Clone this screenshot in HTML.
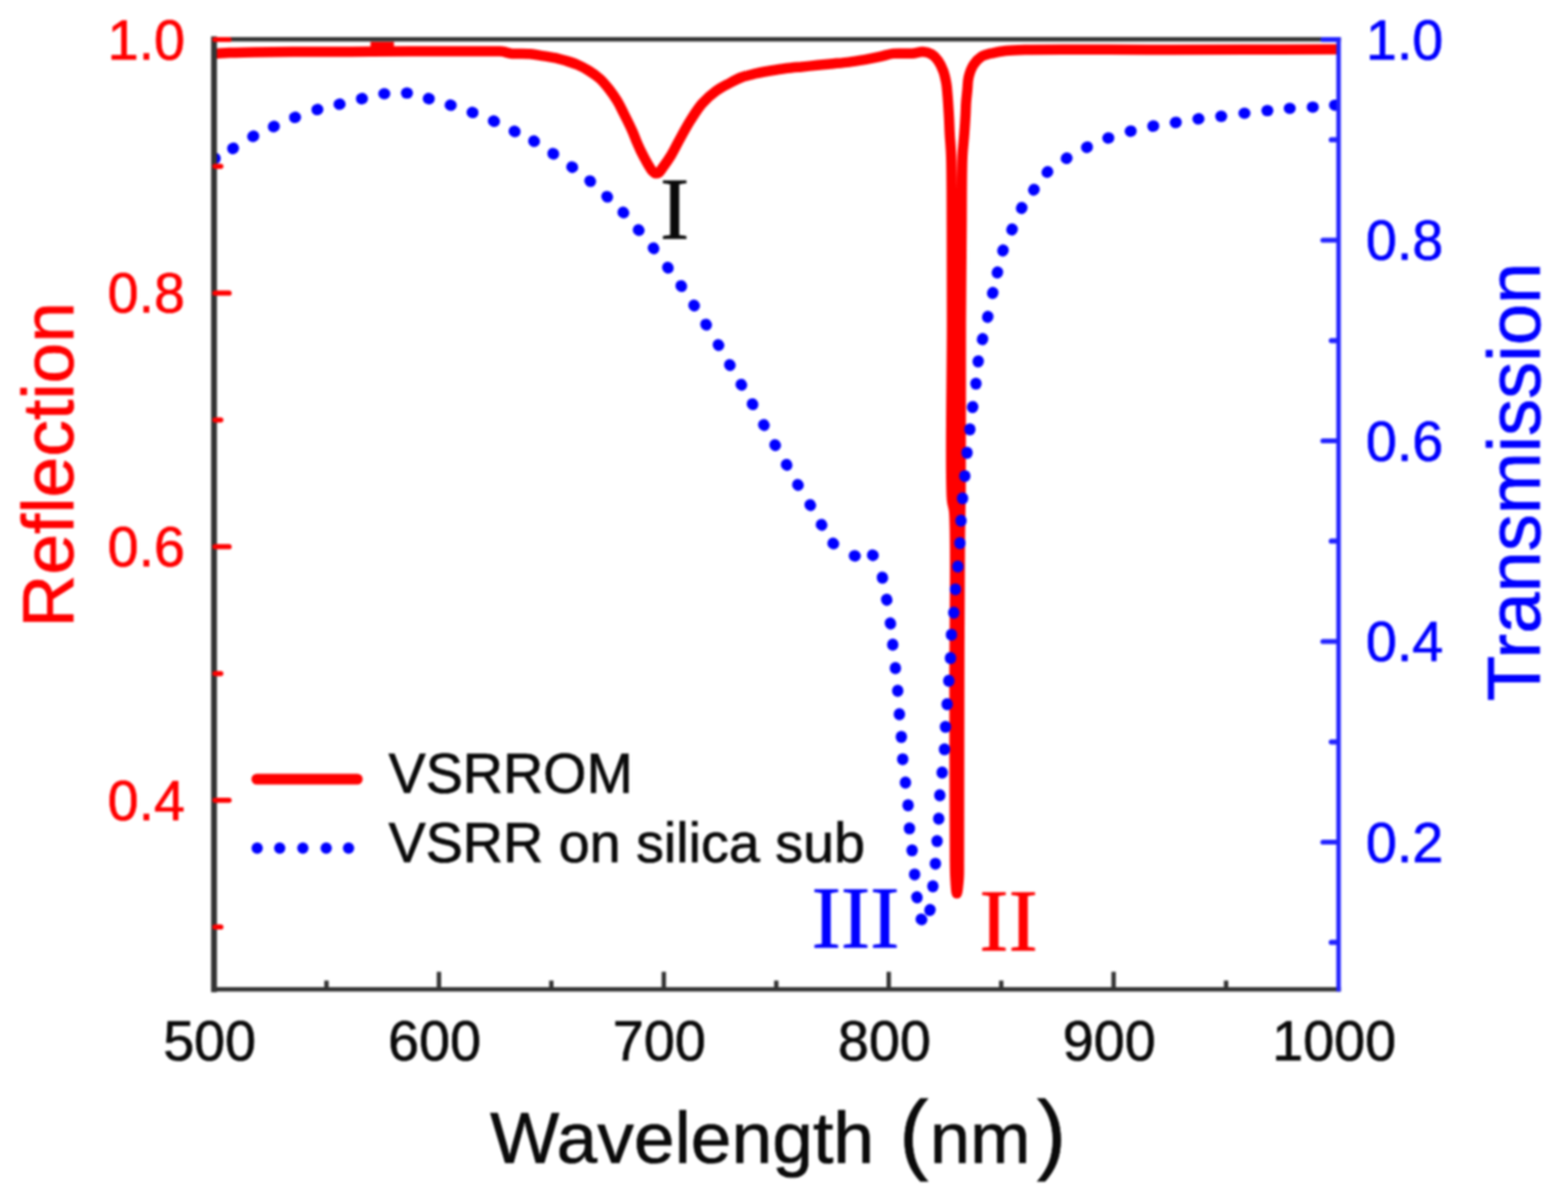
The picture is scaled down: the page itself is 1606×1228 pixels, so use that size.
<!DOCTYPE html><html><head><meta charset="utf-8"><title>Reflection and Transmission</title><style>html,body{margin:0;padding:0;background:#fff;}svg{display:block;filter:blur(1.3px);}text{font-family:"Liberation Sans",Arial,sans-serif;stroke-width:0.7;}.serif{font-family:"Liberation Serif","Times New Roman",serif;}</style></head><body>
<svg width="1606" height="1228" viewBox="0 0 1606 1228">
<rect width="1606" height="1228" fill="#ffffff"/>
<defs><clipPath id="pa"><rect x="219.2" y="40.3" width="1151.8" height="973.0"/></clipPath></defs><g clip-path="url(#pa)">
<path d="M221.0,55.0 C225.7,54.7 229.7,54.2 235.0,54.0 C242.1,53.7 250.7,53.7 260.0,53.5 C271.8,53.3 285.3,53.1 300.0,53.0 C318.0,52.9 340.0,53.0 360.0,52.9 C380.0,52.8 400.9,52.6 420.0,52.6 C437.4,52.6 454.3,52.6 470.0,52.6 C484.1,52.6 503.0,52.5 510.0,52.6 C512.5,52.6 513.2,52.5 515.0,52.8 C517.4,53.1 519.7,54.3 523.0,54.7 C528.1,55.4 536.9,54.8 543.0,55.3 C548.1,55.8 552.3,56.7 557.0,57.4 C561.7,58.2 566.9,58.9 571.0,59.8 C574.4,60.6 576.8,61.3 580.0,62.3 C583.6,63.4 587.7,64.6 591.4,66.2 C595.3,67.9 599.1,69.9 602.8,72.2 C606.7,74.6 610.7,77.3 614.2,80.5 C617.8,83.7 621.0,87.7 624.0,91.5 C626.9,95.2 629.5,98.9 632.0,103.0 C634.6,107.2 636.6,111.7 639.0,116.5 C641.8,122.0 645.3,128.9 647.6,134.1 C649.4,138.0 650.4,141.2 651.9,144.7 C653.4,148.2 655.0,151.8 656.6,155.2 C658.2,158.4 659.9,161.7 661.5,164.5 C662.8,166.9 664.0,169.1 665.3,171.0 C666.4,172.7 667.3,174.4 668.5,175.5 C669.4,176.4 670.5,177.3 671.5,177.5 C672.5,177.7 673.5,177.6 674.5,177.0 C675.9,176.2 676.9,174.1 678.5,172.0 C681.0,168.6 684.8,163.3 687.7,158.5 C690.9,153.2 693.6,147.2 696.8,141.5 C700.1,135.5 703.5,129.2 707.2,123.3 C710.9,117.5 714.6,111.4 719.0,106.3 C723.3,101.4 728.3,96.9 733.3,93.3 C737.9,89.9 743.0,87.5 747.6,85.0 C751.8,82.7 755.8,80.6 760.0,79.0 C764.1,77.5 768.0,76.7 772.4,75.7 C777.4,74.5 783.2,73.5 788.6,72.5 C794.0,71.6 799.4,70.7 804.8,70.0 C810.2,69.3 815.6,68.9 821.0,68.4 C826.4,67.9 831.7,67.3 837.1,66.8 C842.5,66.3 847.9,65.7 853.3,65.2 C858.7,64.7 864.1,64.3 869.5,63.6 C874.9,62.9 880.3,62.0 885.7,61.1 C891.1,60.1 896.8,59.0 901.9,57.9 C906.5,56.9 910.0,55.5 914.8,54.9 C920.6,54.2 928.8,55.2 934.3,54.7 C938.5,54.4 941.8,52.8 945.2,53.0 C948.4,53.2 951.7,54.1 954.3,55.6 C956.9,57.1 958.9,59.5 960.8,62.1 C962.9,65.0 964.7,68.8 966.1,72.6 C967.6,76.6 968.5,81.2 969.3,85.6 C970.0,89.9 970.2,93.8 970.6,98.6 C971.1,104.5 971.5,111.7 971.9,118.2 C972.3,124.7 972.4,131.0 972.8,137.7 C973.2,144.9 973.9,150.5 974.2,160.0 C974.8,176.8 974.7,204.6 974.8,230.0 C975.0,260.4 975.0,291.7 975.0,330.0 C975.1,381.7 972.8,487.3 975.0,512.0 C975.6,518.4 976.6,517.6 977.2,524.0 C979.4,548.3 977.5,641.0 977.6,700.0 C977.7,759.7 977.6,850.0 978.0,880.0 C978.1,890.0 978.1,893.8 978.5,900.0 C978.8,905.4 979.4,915.0 980.0,915.0 C980.6,915.0 981.6,905.4 982.0,900.0 C982.5,893.8 982.2,890.0 982.3,880.0 C982.5,850.0 982.4,756.9 982.6,700.0 C982.7,648.8 982.9,590.8 983.2,554.0 C983.4,531.6 983.8,523.0 984.0,500.0 C984.3,459.1 984.0,379.2 984.2,330.0 C984.4,292.3 984.7,260.4 985.0,230.0 C985.2,204.6 985.0,176.8 985.8,160.0 C986.2,150.5 987.1,144.9 987.6,137.7 C988.1,131.0 988.6,124.1 988.9,118.2 C989.2,113.4 989.2,109.5 989.5,105.1 C989.8,100.8 990.4,96.4 990.8,92.1 C991.2,87.8 991.1,83.4 992.1,79.1 C993.2,74.7 994.9,69.7 997.3,66.1 C999.4,62.9 1002.0,60.2 1005.1,58.2 C1008.4,56.1 1012.8,55.3 1016.9,54.3 C1021.1,53.2 1025.2,52.5 1030.0,52.0 C1035.9,51.3 1040.2,51.2 1050.0,51.0 C1076.7,50.3 1148.5,51.1 1200.0,51.0 C1254.7,50.9 1312.7,50.7 1369.0,50.5" fill="none" stroke="#ff0000" stroke-width="10.5" stroke-linejoin="round" stroke-linecap="butt"/>
<line x1="379.5" y1="47.6" x2="403.5" y2="47.6" stroke="#ff0000" stroke-width="9.5"/>
<g stroke="#0000ff" stroke-width="11.6" stroke-linecap="round">
<line x1="219.7" y1="162.7" x2="220.3" y2="162.3"/>
<line x1="238.4" y1="152.2" x2="239.0" y2="151.8"/>
<line x1="259.0" y1="139.8" x2="259.8" y2="139.4"/>
<line x1="280.1" y1="129.8" x2="280.9" y2="129.4"/>
<line x1="301.8" y1="120.3" x2="302.6" y2="120.1"/>
<line x1="324.7" y1="112.3" x2="325.5" y2="112.1"/>
<line x1="347.4" y1="106.8" x2="348.2" y2="106.6"/>
<line x1="370.3" y1="101.1" x2="371.1" y2="100.9"/>
<line x1="393.2" y1="96.0" x2="394.0" y2="96.0"/>
<line x1="416.4" y1="95.3" x2="417.2" y2="95.3"/>
<line x1="438.8" y1="100.9" x2="439.6" y2="101.1"/>
<line x1="461.2" y1="107.6" x2="462.0" y2="107.8"/>
<line x1="483.6" y1="115.1" x2="484.4" y2="115.3"/>
<line x1="505.5" y1="123.9" x2="506.3" y2="124.3"/>
<line x1="526.7" y1="134.4" x2="527.5" y2="134.8"/>
<line x1="546.7" y1="144.4" x2="547.3" y2="144.8"/>
<line x1="566.4" y1="157.3" x2="567.0" y2="157.7"/>
<line x1="585.8" y1="171.0" x2="586.4" y2="171.4"/>
<line x1="604.2" y1="185.2" x2="604.8" y2="185.8"/>
<line x1="621.6" y1="201.2" x2="622.2" y2="201.8"/>
<line x1="638.2" y1="217.4" x2="638.8" y2="218.0"/>
<line x1="653.9" y1="235.4" x2="654.5" y2="236.0"/>
<line x1="669.2" y1="254.0" x2="669.6" y2="254.6"/>
<line x1="683.9" y1="273.9" x2="684.3" y2="274.5"/>
<line x1="697.6" y1="292.7" x2="698.0" y2="293.3"/>
<line x1="710.8" y1="312.6" x2="711.2" y2="313.2"/>
<line x1="723.0" y1="332.2" x2="723.4" y2="332.8"/>
<line x1="735.7" y1="353.1" x2="736.1" y2="353.7"/>
<line x1="747.4" y1="373.6" x2="747.8" y2="374.2"/>
<line x1="759.1" y1="393.8" x2="759.5" y2="394.4"/>
<line x1="770.6" y1="413.7" x2="771.0" y2="414.3"/>
<line x1="782.2" y1="435.0" x2="782.6" y2="435.6"/>
<line x1="793.8" y1="455.6" x2="794.2" y2="456.2"/>
<line x1="805.5" y1="475.8" x2="805.9" y2="476.4"/>
<line x1="817.1" y1="496.4" x2="817.5" y2="497.0"/>
<line x1="829.7" y1="517.0" x2="830.1" y2="517.6"/>
<line x1="841.3" y1="537.3" x2="841.7" y2="537.9"/>
<line x1="853.2" y1="556.4" x2="853.8" y2="557.0"/>
<line x1="875.1" y1="569.2" x2="875.9" y2="569.4"/>
<line x1="893.7" y1="568.5" x2="894.3" y2="568.9"/>
<line x1="903.7" y1="591.2" x2="903.9" y2="592.0"/>
<line x1="908.1" y1="613.8" x2="908.3" y2="614.6"/>
<line x1="911.9" y1="638.1" x2="912.1" y2="638.9"/>
<line x1="914.4" y1="659.9" x2="914.4" y2="660.7"/>
<line x1="917.1" y1="683.9" x2="917.1" y2="684.7"/>
<line x1="919.5" y1="707.1" x2="919.5" y2="707.9"/>
<line x1="921.2" y1="731.1" x2="921.2" y2="731.9"/>
<line x1="923.2" y1="754.3" x2="923.2" y2="755.1"/>
<line x1="924.6" y1="777.2" x2="924.6" y2="778.0"/>
<line x1="927.4" y1="801.1" x2="927.4" y2="801.9"/>
<line x1="930.1" y1="824.4" x2="930.1" y2="825.2"/>
<line x1="931.5" y1="848.0" x2="931.5" y2="848.8"/>
<line x1="934.2" y1="870.5" x2="934.2" y2="871.3"/>
<line x1="936.8" y1="895.2" x2="936.8" y2="896.0"/>
<line x1="939.1" y1="918.6" x2="939.3" y2="919.4"/>
<line x1="943.5" y1="941.4" x2="944.1" y2="942.0"/>
<line x1="952.4" y1="932.4" x2="952.6" y2="931.6"/>
<line x1="955.5" y1="908.1" x2="955.5" y2="907.3"/>
<line x1="958.1" y1="885.0" x2="958.1" y2="884.2"/>
<line x1="959.8" y1="861.8" x2="959.8" y2="861.0"/>
<line x1="961.5" y1="838.9" x2="961.5" y2="838.1"/>
<line x1="962.6" y1="814.9" x2="962.6" y2="814.1"/>
<line x1="965.0" y1="791.7" x2="965.0" y2="790.9"/>
<line x1="967.4" y1="767.8" x2="967.4" y2="767.0"/>
<line x1="968.4" y1="744.8" x2="968.4" y2="744.0"/>
<line x1="970.1" y1="721.6" x2="970.1" y2="720.8"/>
<line x1="971.8" y1="697.7" x2="971.8" y2="696.9"/>
<line x1="973.5" y1="674.4" x2="973.5" y2="673.6"/>
<line x1="974.5" y1="650.5" x2="974.5" y2="649.7"/>
<line x1="976.9" y1="627.9" x2="976.9" y2="627.1"/>
<line x1="978.6" y1="604.0" x2="978.6" y2="603.2"/>
<line x1="981.0" y1="580.7" x2="981.0" y2="579.9"/>
<line x1="983.2" y1="556.6" x2="983.2" y2="555.8"/>
<line x1="984.3" y1="533.7" x2="984.3" y2="532.9"/>
<line x1="985.9" y1="510.8" x2="985.9" y2="510.0"/>
<line x1="988.2" y1="488.0" x2="988.2" y2="487.2"/>
<line x1="990.5" y1="464.1" x2="990.5" y2="463.3"/>
<line x1="993.4" y1="440.1" x2="993.4" y2="439.3"/>
<line x1="996.1" y1="417.3" x2="996.3" y2="416.5"/>
<line x1="999.6" y1="393.3" x2="999.6" y2="392.5"/>
<line x1="1001.8" y1="370.5" x2="1002.0" y2="369.7"/>
<line x1="1006.3" y1="347.7" x2="1006.5" y2="346.9"/>
<line x1="1011.6" y1="324.9" x2="1011.8" y2="324.1"/>
<line x1="1016.7" y1="300.4" x2="1016.9" y2="299.6"/>
<line x1="1021.5" y1="279.4" x2="1021.7" y2="278.6"/>
<line x1="1027.2" y1="256.9" x2="1027.4" y2="256.1"/>
<line x1="1036.4" y1="235.4" x2="1036.8" y2="234.6"/>
<line x1="1046.3" y1="213.4" x2="1046.7" y2="212.6"/>
<line x1="1058.8" y1="194.6" x2="1059.2" y2="194.0"/>
<line x1="1072.5" y1="176.5" x2="1073.1" y2="175.9"/>
<line x1="1092.2" y1="162.3" x2="1092.8" y2="161.9"/>
<line x1="1112.9" y1="151.0" x2="1113.7" y2="150.6"/>
<line x1="1134.8" y1="141.4" x2="1135.6" y2="141.2"/>
<line x1="1157.7" y1="134.4" x2="1158.5" y2="134.2"/>
<line x1="1180.8" y1="129.2" x2="1181.6" y2="129.0"/>
<line x1="1203.9" y1="125.5" x2="1204.7" y2="125.3"/>
<line x1="1227.1" y1="121.8" x2="1227.9" y2="121.6"/>
<line x1="1250.4" y1="119.1" x2="1251.2" y2="119.1"/>
<line x1="1274.2" y1="116.0" x2="1275.0" y2="116.0"/>
<line x1="1297.7" y1="113.3" x2="1298.5" y2="113.3"/>
<line x1="1320.6" y1="111.0" x2="1321.4" y2="111.0"/>
<line x1="1344.2" y1="109.7" x2="1345.0" y2="109.7"/>
<line x1="1367.0" y1="107.7" x2="1367.8" y2="107.7"/>
</g>
</g>
<g stroke-linecap="square">
<line x1="219.2" y1="40.3" x2="1371.0" y2="40.3" stroke="#333333" stroke-width="4.5"/>
<line x1="219.2" y1="1013.3" x2="1371.0" y2="1013.3" stroke="#333333" stroke-width="4.5"/>
<line x1="219.2" y1="40.3" x2="219.2" y2="1013.3" stroke="#333333" stroke-width="6"/>
<line x1="1371.0" y1="40.3" x2="1371.0" y2="1013.3" stroke="#2222ff" stroke-width="4.6"/>
</g>
<g stroke="#333333" stroke-width="4.5">
<line x1="334.4" y1="1013.3" x2="334.4" y2="1004.3"/>
<line x1="449.6" y1="1013.3" x2="449.6" y2="995.3"/>
<line x1="564.7" y1="1013.3" x2="564.7" y2="1004.3"/>
<line x1="679.9" y1="1013.3" x2="679.9" y2="995.3"/>
<line x1="795.1" y1="1013.3" x2="795.1" y2="1004.3"/>
<line x1="910.3" y1="1013.3" x2="910.3" y2="995.3"/>
<line x1="1025.5" y1="1013.3" x2="1025.5" y2="1004.3"/>
<line x1="1140.6" y1="1013.3" x2="1140.6" y2="995.3"/>
<line x1="1255.8" y1="1013.3" x2="1255.8" y2="1004.3"/>
</g>
<g stroke="#ff0000" stroke-width="5.2" stroke-linecap="round">
<line x1="220.2" y1="40.5" x2="234.7" y2="40.5"/>
<line x1="220.2" y1="170.3" x2="226.2" y2="170.3"/>
<line x1="220.2" y1="300.2" x2="234.7" y2="300.2"/>
<line x1="220.2" y1="430.1" x2="226.2" y2="430.1"/>
<line x1="220.2" y1="559.9" x2="234.7" y2="559.9"/>
<line x1="220.2" y1="689.8" x2="226.2" y2="689.8"/>
<line x1="220.2" y1="819.6" x2="234.7" y2="819.6"/>
<line x1="220.2" y1="949.4" x2="226.2" y2="949.4"/>
</g>
<g stroke="#2222ff" stroke-width="5.2" stroke-linecap="round">
<line x1="1370.0" y1="40.5" x2="1355.0" y2="40.5"/>
<line x1="1370.0" y1="143.2" x2="1363.5" y2="143.2"/>
<line x1="1370.0" y1="246.0" x2="1355.0" y2="246.0"/>
<line x1="1370.0" y1="348.8" x2="1363.5" y2="348.8"/>
<line x1="1370.0" y1="451.5" x2="1355.0" y2="451.5"/>
<line x1="1370.0" y1="554.2" x2="1363.5" y2="554.2"/>
<line x1="1370.0" y1="657.0" x2="1355.0" y2="657.0"/>
<line x1="1370.0" y1="759.8" x2="1363.5" y2="759.8"/>
<line x1="1370.0" y1="862.5" x2="1355.0" y2="862.5"/>
<line x1="1370.0" y1="965.2" x2="1363.5" y2="965.2"/>
</g>
<g font-size="57" fill="#0a0a0a" stroke="#0a0a0a" text-anchor="middle">
<text x="214.7" y="1086">500</text>
<text x="445.1" y="1086">600</text>
<text x="675.4" y="1086">700</text>
<text x="905.8" y="1086">800</text>
<text x="1136.1" y="1086">900</text>
<text x="1366.5" y="1086">1000</text>
</g>
<g font-size="57" fill="#ff0000" stroke="#ff0000" text-anchor="end">
<text x="189.5" y="60.5">1.0</text>
<text x="189.5" y="320.2">0.8</text>
<text x="189.5" y="579.9">0.6</text>
<text x="189.5" y="839.6">0.4</text>
</g>
<g font-size="57" fill="#0000ff" stroke="#0000ff" text-anchor="start">
<text x="1399" y="60.5">1.0</text>
<text x="1399" y="266.0">0.8</text>
<text x="1399" y="471.5">0.6</text>
<text x="1399" y="677.0">0.4</text>
<text x="1399" y="882.5">0.2</text>
</g>
<text y="1190.5" font-size="75" fill="#0a0a0a" stroke="#0a0a0a"><tspan x="502">Wavelength</tspan> <tspan x="921" font-size="90">(</tspan><tspan x="952.5" font-size="74">nm</tspan><tspan x="1062" font-size="90">)</tspan></text>
<text transform="translate(75,476) rotate(-90)" font-size="75" fill="#ff0000" stroke="#ff0000" text-anchor="middle">Reflection</text>
<text transform="translate(1577,493.5) rotate(-90)" font-size="76" fill="#0000ff" stroke="#0000ff" text-anchor="middle">Transmission</text>
<line x1="263" y1="798" x2="366" y2="798" stroke="#ff0000" stroke-width="11" stroke-linecap="round"/>
<g fill="#0000ff">
<circle cx="263.4" cy="868.6" r="5.8"/>
<circle cx="286.5" cy="868.6" r="5.8"/>
<circle cx="310.2" cy="868.6" r="5.8"/>
<circle cx="334.1" cy="868.6" r="5.8"/>
<circle cx="357.0" cy="868.6" r="5.8"/>
</g>
<text x="398" y="812" font-size="57" fill="#0a0a0a" stroke="#0a0a0a">VSRROM</text>
<text x="398" y="883" font-size="57" fill="#0a0a0a" stroke="#0a0a0a">VSRR on silica sub</text>
<text class="serif" x="691" y="244.5" font-size="90" fill="#0a0a0a" stroke="#0a0a0a" text-anchor="middle">I</text>
<text class="serif" x="876.3" y="971" font-size="90" fill="#0000ff" stroke="#0000ff" text-anchor="middle">III</text>
<text class="serif" x="1032.9" y="974" font-size="90" fill="#ff0000" stroke="#ff0000" text-anchor="middle">II</text>
</svg></body></html>
